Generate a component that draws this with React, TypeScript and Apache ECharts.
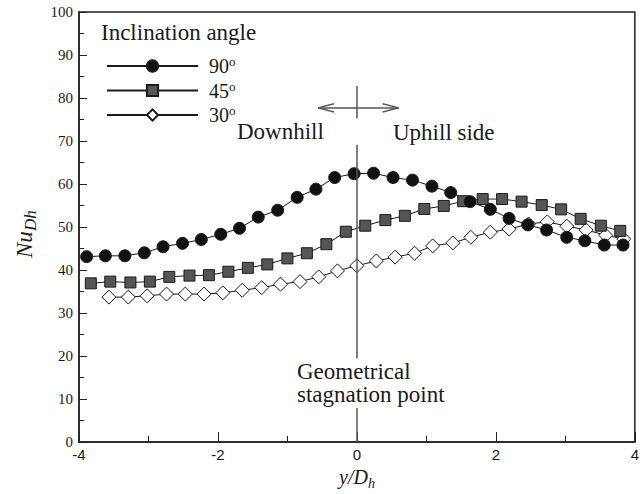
import { useEffect, useRef } from 'react';
import * as echarts from 'echarts';

const SERIF = '"Liberation Serif", "Times New Roman", serif';
const SANS = '"Liberation Sans", Arial, sans-serif';
const INK = '#1a1a1a';

// Inclination angles shown in the legend (degrees)
const angleNames = ['90', '45', '30'];

// 90 degree inclination
const y90 = [-3.89, -3.62, -3.34, -3.06, -2.79, -2.51, -2.24, -1.96, -1.69, -1.42, -1.14, -0.86, -0.59, -0.32, -0.04,
  0.24, 0.52, 0.8, 1.08, 1.35, 1.63, 1.92, 2.19, 2.46, 2.73, 3.02, 3.28, 3.56, 3.83];
const nu90 = [43.1, 43.3, 43.3, 44.0, 45.4, 46.2, 47.1, 48.3, 49.7, 52.3, 53.9, 56.9, 58.8, 61.5, 62.4,
  62.5, 61.5, 60.9, 59.5, 58.0, 55.9, 54.1, 52.0, 50.5, 49.3, 47.6, 46.8, 45.8, 45.8];

// 45 degree inclination
const y45 = [-3.83, -3.55, -3.26, -2.98, -2.7, -2.41, -2.13, -1.85, -1.57, -1.29, -1.0, -0.72, -0.44, -0.16,
  0.12, 0.41, 0.69, 0.97, 1.25, 1.53, 1.81, 2.09, 2.37, 2.66, 2.94, 3.22, 3.51, 3.79];
const nu45 = [36.9, 37.3, 37.1, 37.3, 38.4, 38.7, 38.8, 39.6, 40.5, 41.3, 42.7, 43.9, 46.0, 48.9,
  50.3, 51.6, 52.6, 54.2, 54.9, 56.0, 56.5, 56.5, 55.9, 55.1, 54.1, 51.9, 50.3, 49.1];

// 30 degree inclination
const y30 = [-3.57, -3.29, -3.02, -2.74, -2.47, -2.2, -1.93, -1.65, -1.37, -1.1, -0.82, -0.55, -0.28, 0.0,
  0.28, 0.55, 0.83, 1.09, 1.38, 1.64, 1.92, 2.19, 2.47, 2.74, 3.02, 3.3, 3.58, 3.84];
const nu30 = [33.7, 33.7, 34.0, 34.4, 34.4, 34.4, 34.7, 35.3, 35.9, 36.7, 37.3, 38.4, 39.8, 41.0,
  42.1, 43.0, 43.9, 45.6, 46.3, 47.6, 48.8, 49.5, 50.7, 51.2, 50.2, 49.3, 48.1, 47.2];

// Stagnation line at y/Dh = 0, broken around the text labels (Nu ranges)
const stagnationSegments = [[82.8, 75.3], [69.1, 19.5], [7.9, 0]];
// Double-headed arrow pointing downhill / uphill
const arrowLevel = 77.7;
const arrowEnds = [-0.56, 0.6];
const headLength = 0.23;
const headHalfHeight = 0.95;

const pairs = (xs: number[], ys: number[]) => xs.map((x, i) => [x, ys[i]]);

function buildAnnotationLines() {
  const segs: any[] = [];
  stagnationSegments.forEach(([a, b]) => segs.push([{ coord: [0, a] }, { coord: [0, b] }]));
  const [l, r] = arrowEnds;
  segs.push([{ coord: [l, arrowLevel] }, { coord: [r, arrowLevel] }]);
  [
    [l, l + headLength],
    [r, r - headLength],
  ].forEach(([tip, back]) => {
    segs.push([{ coord: [tip, arrowLevel] }, { coord: [back, arrowLevel + headHalfHeight] }]);
    segs.push([{ coord: [tip, arrowLevel] }, { coord: [back, arrowLevel - headHalfHeight] }]);
  });
  return segs;
}

const lineSeries = (name: string, xs: number[], ys: number[], symbol: string, size: number, fill: string) => ({
  name,
  type: 'line',
  data: pairs(xs, ys),
  symbol,
  symbolSize: size,
  z: 3,
  lineStyle: { color: INK, width: 1 },
  itemStyle: { color: fill, borderColor: INK, borderWidth: 1 },
  emphasis: { disabled: true },
});

const textEl = (text: string, x: number, y: number, font: string) => ({
  type: 'text',
  x,
  y,
  style: { text, font, fill: INK, textVerticalAlign: 'middle' },
});

const option: any = {
  animation: false,
  backgroundColor: '#ffffff',
  grid: {
    left: 79,
    right: 5,
    top: 12,
    bottom: 52,
    show: true,
    borderColor: '#222',
    borderWidth: 1.5,
    backgroundColor: 'transparent',
  },
  xAxis: {
    type: 'value',
    min: -4,
    max: 4,
    interval: 2,
    axisLine: { onZero: false, lineStyle: { color: '#222', width: 1.5 } },
    axisTick: { inside: true, length: 10, lineStyle: { color: '#222', width: 1 } },
    minorTick: { show: true, splitNumber: 2, length: 6, lineStyle: { color: '#222', width: 1 } },
    splitLine: { show: false },
    axisLabel: { fontFamily: SANS, fontSize: 15, color: INK, margin: 5 },
  },
  yAxis: {
    type: 'value',
    min: 0,
    max: 100,
    interval: 10,
    axisLine: { show: true, onZero: false, lineStyle: { color: '#222', width: 1.5 } },
    axisTick: { show: true, inside: true, length: 8, lineStyle: { color: '#222', width: 1 } },
    minorTick: { show: true, splitNumber: 2, length: 5, lineStyle: { color: '#222', width: 1 } },
    splitLine: { show: false },
    axisLabel: { fontFamily: SERIF, fontSize: 15, color: INK, margin: 6 },
  },
  legend: {
    orient: 'vertical',
    left: 106,
    top: 55,
    padding: 0,
    itemWidth: 91,
    itemHeight: 14,
    itemGap: 2.5,
    selectedMode: false,
    data: angleNames,
    formatter: (name: string) => `{n|${name}}{s|o}`,
    textStyle: {
      fontFamily: SERIF,
      color: INK,
      rich: {
        n: { fontFamily: SERIF, fontSize: 20, color: INK, lineHeight: 24, padding: [0, 0, 0, 6] },
        s: { fontFamily: SERIF, fontSize: 13, color: INK, lineHeight: 13, padding: [0, 0, 9, 0] },
      },
    },
  },
  graphic: [
    textEl('Inclination angle', 101, 32.5, `23px ${SERIF}`),
    textEl('Downhill', 237, 131, `23px ${SERIF}`),
    textEl('Uphill side', 393, 132.5, `23px ${SERIF}`),
    textEl('Geometrical', 297, 371.5, `23px ${SERIF}`),
    textEl('stagnation point', 297, 394.5, `23px ${SERIF}`),
    // x axis title: y/D_h
    {
      type: 'group',
      x: 339,
      y: 484,
      children: [
        textEl('y/D', 0, -6.8, `italic 20px ${SERIF}`),
        textEl('h', 29, -1, `italic 14px ${SERIF}`),
      ],
    },
    // y axis title: Nu_Dh, rotated
    {
      type: 'group',
      x: 32,
      y: 258,
      rotation: Math.PI / 2,
      children: [
        textEl('Nu', 0, -7.8, `italic 23px ${SERIF}`),
        textEl('Dh', 27, -1.8, `italic 17px ${SERIF}`),
      ],
    },
  ],
  series: [
    {
      name: 'annotations',
      type: 'line',
      data: [],
      z: 1,
      silent: true,
      markLine: {
        silent: true,
        symbol: 'none',
        animation: false,
        label: { show: false },
        lineStyle: { color: '#555', width: 1.5, type: 'solid' },
        emphasis: { disabled: true },
        data: buildAnnotationLines(),
      },
    },
    lineSeries(angleNames[2], y30, nu30, 'diamond', 14, '#ffffff'),
    lineSeries(angleNames[1], y45, nu45, 'rect', 11, '#555555'),
    lineSeries(angleNames[0], y90, nu90, 'circle', 12, '#111111'),
  ],
};

export default function App() {
  const ref = useRef<HTMLDivElement>(null);
  useEffect(() => {
    const chart = echarts.init(ref.current!, null, { renderer: 'svg' });
    chart.setOption(option);
    return () => chart.dispose();
  }, []);
  return (
    <div
      ref={ref}
      style={{ position: 'fixed', left: 0, top: 0, width: 642, height: 494, background: '#fff' }}
    />
  );
}
